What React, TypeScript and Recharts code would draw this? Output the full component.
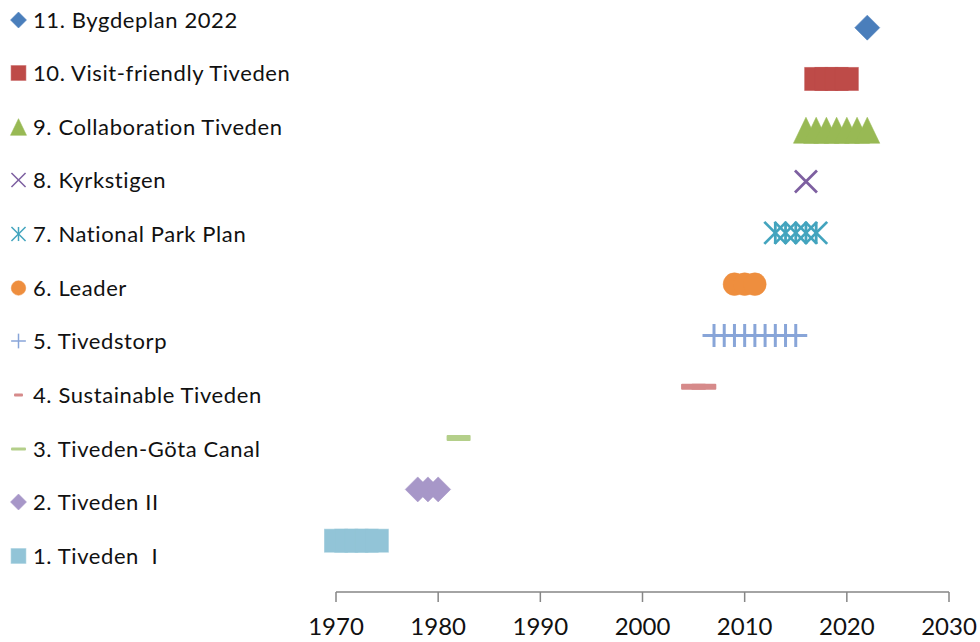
import { ScatterChart, Scatter, XAxis, YAxis, Legend } from "recharts";

// project years, one array per project
const tivedenI = [1970, 1971, 1972, 1973, 1974];
const tivedenII = [1978, 1979, 1980];
const tivedenGotaCanal = [1982];
const sustainableTiveden = [2005, 2006];
const tivedstorp = [2007, 2008, 2009, 2010, 2011, 2012, 2013, 2014, 2015];
const leader = [2009, 2010, 2011];
const nationalParkPlan = [2013, 2014, 2015, 2016, 2017];
const kyrkstigen = [2016];
const collaborationTiveden = [2016, 2017, 2018, 2019, 2020, 2021, 2022];
const visitFriendlyTiveden = [2017, 2018, 2019, 2020];
const bygdeplan2022 = [2022];

const projectNames = [
  "1. Tiveden  I",
  "2. Tiveden II",
  "3. Tiveden-Göta Canal",
  "4. Sustainable Tiveden",
  "5. Tivedstorp",
  "6. Leader",
  "7. National Park Plan",
  "8. Kyrkstigen",
  "9. Collaboration Tiveden",
  "10. Visit-friendly Tiveden",
  "11. Bygdeplan 2022",
];

const yearTicks = [1970, 1980, 1990, 2000, 2010, 2020, 2030];

type MarkerKind =
  | "square"
  | "diamond"
  | "longDash"
  | "dash"
  | "plus"
  | "circle"
  | "star"
  | "cross"
  | "triangle";

const series: { years: number[]; color: string; marker: MarkerKind }[] = [
  { years: tivedenI, color: "#92C4D7", marker: "square" },
  { years: tivedenII, color: "#A797C8", marker: "diamond" },
  { years: tivedenGotaCanal, color: "#B4CF8A", marker: "longDash" },
  { years: sustainableTiveden, color: "#D68A8A", marker: "dash" },
  { years: tivedstorp, color: "#88A5D8", marker: "plus" },
  { years: leader, color: "#EE8E3E", marker: "circle" },
  { years: nationalParkPlan, color: "#43A4BE", marker: "star" },
  { years: kyrkstigen, color: "#7D5FA0", marker: "cross" },
  { years: collaborationTiveden, color: "#98B954", marker: "triangle" },
  { years: visitFriendlyTiveden, color: "#BE4B48", marker: "square" },
  { years: bygdeplan2022, color: "#4A7EBB", marker: "diamond" },
];

const FONT = "Lato, 'Open Sans', sans-serif";

// s scales the marker: 1 in the plot, smaller in the legend
function Marker({ kind, cx, cy, color, s, legend }: { kind: MarkerKind; cx: number; cy: number; color: string; s: number; legend?: boolean }) {
  const edge = { stroke: color, strokeOpacity: 0.55, strokeWidth: 1 };
  switch (kind) {
    case "square": {
      const h = 11.5 * s;
      return <rect x={cx - h} y={cy - h} width={2 * h} height={2 * h} fill={color} {...edge} />;
    }
    case "diamond": {
      const h = 12.5 * s;
      return <polygon points={`${cx},${cy - h} ${cx + h},${cy} ${cx},${cy + h} ${cx - h},${cy}`} fill={color} {...edge} />;
    }
    case "triangle": {
      const w = 12.5 * s;
      const h = 13 * s;
      return <polygon points={`${cx},${cy - h} ${cx + w},${cy + h} ${cx - w},${cy + h}`} fill={color} {...edge} />;
    }
    case "circle":
      return <circle cx={cx} cy={cy} r={11.3 * s} fill={color} {...edge} />;
    case "longDash": {
      const w = legend ? 15 : 24;
      const h = legend ? 3 : 6;
      return <rect x={cx - w / 2} y={cy - h / 2} width={w} height={h} rx={1} fill={color} />;
    }
    case "dash": {
      const w = legend ? 9 : 25;
      const h = legend ? 3 : 6;
      return <rect x={cx - w / 2} y={cy - h / 2} width={w} height={h} rx={1} fill={color} />;
    }
    case "plus": {
      const h = 11.5 * s;
      const sw = legend ? 1.5 : 3;
      return (
        <g stroke={color} strokeWidth={sw}>
          <line x1={cx - h} y1={cy} x2={cx + h} y2={cy} />
          <line x1={cx} y1={cy - h} x2={cx} y2={cy + h} />
        </g>
      );
    }
    case "cross": {
      const h = 11 * s;
      const sw = legend ? 1.5 : 2.8;
      return (
        <g stroke={color} strokeWidth={sw}>
          <line x1={cx - h} y1={cy - h} x2={cx + h} y2={cy + h} />
          <line x1={cx - h} y1={cy + h} x2={cx + h} y2={cy - h} />
        </g>
      );
    }
    case "star": {
      const h = 11 * s;
      const sw = legend ? 1.5 : 2.8;
      return (
        <g stroke={color} strokeWidth={sw}>
          <line x1={cx - h} y1={cy - h} x2={cx + h} y2={cy + h} />
          <line x1={cx - h} y1={cy + h} x2={cx + h} y2={cy - h} />
          <line x1={cx} y1={cy - h} x2={cx} y2={cy + h} />
        </g>
      );
    }
  }
  return null;
}

function ProjectLegend() {
  const rows = series.map((sr, i) => ({ ...sr, name: projectNames[i] })).reverse();
  return (
    <div style={{ position: "relative", width: 320, height: 580, fontFamily: FONT }}>
      {rows.map((r, i) => {
        const cy = 19.5 + i * 53.65;
        return (
          <div key={r.name} style={{ position: "absolute", left: 0, top: cy - 15, height: 30, display: "flex", alignItems: "center" }}>
            <svg width={30} height={30} style={{ display: "block" }}>
              <Marker kind={r.marker} cx={18.5} cy={15} color={r.color} s={0.64} legend />
            </svg>
            <span style={{ marginLeft: 3, fontSize: 22, letterSpacing: 0.6, color: "#111", whiteSpace: "pre", lineHeight: "30px" }}>{r.name}</span>
          </div>
        );
      })}
    </div>
  );
}

export default function App() {
  return (
    <div style={{ position: "absolute", left: 0, top: 0, width: 980, height: 642, background: "#fff" }}>
      <ScatterChart width={980} height={642} margin={{ top: 2, right: 31, bottom: 0, left: 336 }}>
        <XAxis
          type="number"
          dataKey="year"
          domain={[1970, 2030]}
          ticks={yearTicks}
          height={50}
          tickSize={10}
          tickMargin={16}
          axisLine={{ stroke: "#868686", strokeWidth: 1.5 }}
          tickLine={{ stroke: "#868686", strokeWidth: 1.5 }}
          tick={{ fill: "#111", fontSize: 24, fontFamily: FONT }}
        />
        <YAxis type="number" dataKey="row" domain={[0, 11.5]} hide />
        <Legend
          layout="vertical"
          align="center"
          verticalAlign="middle"
          wrapperStyle={{ position: "absolute", left: 0, top: 0, width: 320 }}
          content={() => <ProjectLegend />}
        />
        {series.map((sr, i) => (
          <Scatter
            key={projectNames[i]}
            name={projectNames[i]}
            data={sr.years.map((y) => ({ year: y, row: i + 1 }))}
            isAnimationActive={false}
            shape={(p: any) => <Marker kind={sr.marker} cx={p.cx} cy={p.cy} color={sr.color} s={1} />}
          />
        ))}
      </ScatterChart>
    </div>
  );
}
